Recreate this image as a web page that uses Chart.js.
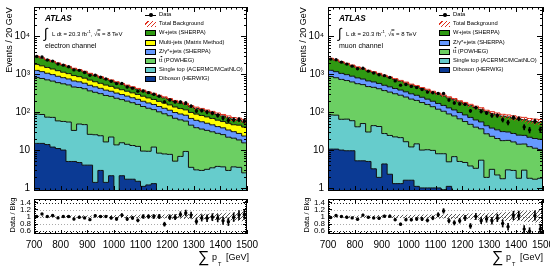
<!DOCTYPE html>
<html lang="en">
<head>
<meta charset="UTF-8">
<title>Sum pT - electron and muon channels</title>
<style>
  body { margin: 0; background: #fff; }
  #wrap { position: relative; width: 550px; height: 280px; overflow: hidden; font-family: "Liberation Sans", Arial, sans-serif; }
  canvas { position: absolute; }
  .t { position: absolute; white-space: nowrap; line-height: 1; color: #000; }
  .t sup { font-size: 70%; }
  .sw { position: absolute; box-sizing: border-box; }
</style>
<script src="https://cdn.jsdelivr.net/npm/chart.js@4.4.0/dist/chart.umd.min.js"></script>
</head>
<body>
<div id="wrap">
  <canvas id="eMain" width="275" height="195" style="left:0;top:0"></canvas>
  <canvas id="eRatio" width="275" height="85" style="left:0;top:195px"></canvas>
  <canvas id="mMain" width="275" height="195" style="left:275px;top:0"></canvas>
  <canvas id="mRatio" width="275" height="85" style="left:275px;top:195px"></canvas>
</div>
<script>
// bins: 40 x 20 GeV from 700 to 1500
const binEdges = Array.from({length: 41}, (_, i) => 700 + 20 * i);
const binCenters = binEdges.slice(0, 40).map(e => e + 10);
const xTickValues = [700, 800, 900, 1000, 1100, 1200, 1300, 1400, 1500];
const yMainTicks = [1, 10, 100, 1000, 10000];
const yMainLabels = ['1', '10', '10²', '10³', '10⁴'];
const yRatioTicks = [0.6, 0.8, 1, 1.2, 1.4];

// ---- electron channel (events per bin) ----
const eWjets = [1130,1000,880,790,700,610,540,480,430,375,330,290,260,230,205,180,160,140,125,110,98,90,80,72,66,60,54,50,45,41,37,34,31,28,25,23,21,18,16,15];
const eMultijet = [560,500,450,400,360,320,290,260,235,210,190,170,152,138,124,112,100,92,83,76,70,63,57,52,47,43,39,35,32,30,28,26,24,22,20,18,17,16,18,17];
const eZjets = [440,400,355,320,285,255,230,205,185,165,148,132,118,106,95,86,77,70,63,58,53,48,43,39,36,32,29,27,25,23,22,20,18,16,14,13,12,10,9,8];
const eTtbar = [740,690,640,590,545,505,470,430,400,370,340,310,285,260,240,220,200,182,165,148,132,118,105,94,83,73,64,56,49,42,36,33,30,27,24,22,19,17,15,13];
const eSingleTop = [74,72,60,61,48,47,50,28,44,43,22,24,21,15,20,13,13.5,12.5,11.5,11,8.3,8.1,10.7,7.8,7.5,7.3,4.8,6.5,8.9,3.2,2.8,2.7,2.9,3.2,3.5,3.4,2.8,3.5,3.4,2.4];
const eDiboson = [15,15,14,12,11,10,5,5,4.7,4,4,1.4,2.9,1.4,2.1,0.7,2.1,1.7,1.7,1.5,1.1,1.2,1.3,0.5,0.4,0.4,0.3,0.3,0.3,0.3,0.2,0.2,0.2,0.2,0.2,0.2,0.1,0.1,0.1,0.1];
const eRatioVals = [1.0,1.07,1.0,1.03,0.96,1.0,1.0,0.93,0.98,0.96,0.91,1.02,1.0,1.0,0.96,0.93,1.04,0.93,0.96,0.89,1.0,1.0,1.0,1.0,0.78,0.98,0.98,1.06,1.1,1.04,0.86,0.96,0.95,0.98,0.95,0.88,0.85,0.98,1.04,1.06];
const eBkgUnc = [0.02,0.02,0.025,0.02,0.025,0.03,0.025,0.03,0.03,0.035,0.03,0.035,0.04,0.035,0.04,0.045,0.04,0.045,0.05,0.05,0.055,0.05,0.06,0.055,0.06,0.065,0.07,0.065,0.07,0.075,0.08,0.085,0.08,0.09,0.1,0.095,0.11,0.12,0.13,0.14];

// ---- muon channel ----
const mWjets = [1330,1180,1040,920,820,720,640,570,505,450,400,355,315,280,250,222,200,178,160,145,130,118,108,99,90,83,76,70,64,59,55,51,48,45,43,41,39,37,36,35];
const mZjets = [400,360,325,295,265,240,215,195,175,158,142,128,115,103,93,84,75,68,61,55,50,45,40,35,31,28,25,22,19,17,15,14,13,12,11,10.5,10,9.5,9,9];
const mTtbar = [790,730,670,620,570,525,485,445,410,375,345,315,285,260,235,210,190,170,150,130,112,98,85,73,62,52,44,37,31,25,20,18,16,15,13.5,12.5,11.5,10.5,9.5,8.5];
const mSingleTop = [74,73,55,56,50,36,45,25,41,40,23,22,21,20,15,10.5,13.5,9,9.2,8.8,7,7.1,3.8,6.2,4.5,4.4,3.5,3,5.2,1.7,2.9,2,1.55,2.9,2.8,1.7,2.85,1.7,1.6,1.7];
const mDiboson = [10.6,10.6,10,9.6,9.6,5.2,5.2,5,3.2,1.9,4.3,2.3,1.3,1.3,1.6,1.6,1.1,1,1,1,1,0.9,1.1,0.5,0.5,0.3,0.3,0.3,0.2,0.2,0.2,0.2,0.2,0.1,0.1,0.1,0.1,0.1,0.1,0.1];
const mRatioVals = [0.97,1.03,1.0,0.98,0.96,0.92,1.04,0.98,0.96,0.95,1.01,1.01,0.91,0.78,0.91,0.91,0.93,0.93,0.89,0.96,1.05,1.16,0.88,0.82,0.88,0.96,0.73,1.0,0.88,0.93,0.88,0.96,0.8,0.71,1.03,1.03,0.64,0.58,1.03,0.64];
const mBkgUnc = [0.02,0.025,0.025,0.03,0.025,0.03,0.035,0.03,0.035,0.04,0.035,0.04,0.045,0.04,0.05,0.045,0.05,0.055,0.06,0.055,0.065,0.06,0.07,0.075,0.07,0.08,0.085,0.09,0.1,0.095,0.11,0.12,0.115,0.13,0.14,0.13,0.15,0.16,0.17,0.18];

const colors = {
  wjets: '#2f9a12', multijet: '#ffff00', zjets: '#6699ff',
  ttbar: '#6ccf63', singletop: '#66cccc', diboson: '#0b3a94'
};

Chart.defaults.font.family = "'Liberation Sans', Arial, sans-serif";

function hatch(canvasId, color) {
  const c = document.createElement('canvas');
  c.width = 4; c.height = 4;
  const g = c.getContext('2d');
  g.strokeStyle = color; g.lineWidth = 1;
  g.beginPath(); g.moveTo(-1, 5); g.lineTo(5, -1); g.stroke();
  return document.getElementById(canvasId).getContext('2d').createPattern(c, 'repeat');
}

// histogram outline: flat over each bin, steps at the bin edges
function stepPoints(vals) {
  const pts = [{x: binEdges[0], y: vals[0]}];
  vals.forEach((v, i) => pts.push({x: binCenters[i], y: v}));
  pts.push({x: binEdges[40], y: vals[vals.length - 1]});
  return pts;
}

// inward ticks on all four sides + frame, ratio reference lines
const atlasFrame = {
  id: 'atlasFrame',
  beforeDatasetsDraw(chart, args, o) {
    if (!o.refLines) return;
    const {ctx, chartArea: a, scales: {y}} = chart;
    ctx.save();
    ctx.lineWidth = 1;
    ctx.setLineDash([1, 2]);
    o.refLines.forEach(r => {
      const py = Math.round(y.getPixelForValue(r.v)) + 0.5;
      ctx.strokeStyle = r.color;
      ctx.beginPath(); ctx.moveTo(a.left, py); ctx.lineTo(a.right, py); ctx.stroke();
    });
    ctx.restore();
  },
  afterDatasetsDraw(chart, args, o) {
    const {ctx, chartArea: a, scales: {x, y}} = chart;
    ctx.save();
    ctx.strokeStyle = '#000'; ctx.lineWidth = 1; ctx.setLineDash([]);
    ctx.beginPath();
    o.xTicks.forEach(([v, len]) => {
      const px = Math.round(x.getPixelForValue(v)) + 0.5;
      ctx.moveTo(px, a.bottom); ctx.lineTo(px, a.bottom - len);
      ctx.moveTo(px, a.top); ctx.lineTo(px, a.top + len);
    });
    o.yTicks.forEach(([v, len]) => {
      const py = Math.round(y.getPixelForValue(v)) + 0.5;
      ctx.moveTo(a.left, py); ctx.lineTo(a.left + len, py);
      ctx.moveTo(a.right, py); ctx.lineTo(a.right - len, py);
    });
    ctx.stroke();
    ctx.strokeRect(a.left + 0.5, a.top + 0.5, a.right - a.left - 1, a.bottom - a.top - 1);
    ctx.restore();
  }
};

function xTickMarks(major, minor) {
  const out = [];
  for (let v = 700; v <= 1500; v += 20) out.push([v, v % 100 === 0 ? major : minor]);
  return out;
}
const mainYTicks = [];
yMainTicks.forEach(d => {
  for (let m = 1; m <= 9; m++) if (m * d <= 6e4) mainYTicks.push([m * d, m === 1 ? 6 : 3]);
});
const ratioYTicks = [];
for (let k = 11; k <= 29; k++) ratioYTicks.push([k * 0.05, k % 4 === 0 ? 4 : 2]);

function makeMain(id, comps, ratio, unc, yWidth, padRight) {
  const cum = [];
  let run = new Array(40).fill(0);
  comps.forEach(c => { run = run.map((r, i) => r + c.vals[i]); cum.push(run); });
  const total = cum[cum.length - 1];
  const dataN = ratio.map((r, i) => r * total[i]);
  const datasets = [
    { data: binCenters.map((x, i) => ({x, y: dataN[i]})), showLine: false,
      pointRadius: 1.7, pointBackgroundColor: '#000', pointBorderWidth: 0 },
    { type: 'bar', data: binCenters.map((x, i) => ({x, y: [dataN[i] - Math.sqrt(dataN[i]), dataN[i] + Math.sqrt(dataN[i])]})),
      barThickness: 1, backgroundColor: '#000', borderWidth: 0 },
    { data: stepPoints(total.map((t, i) => t * (1 + unc[i]))), stepped: 'middle', fill: '+1',
      backgroundColor: hatch(id, '#e0301e'), borderColor: '#e0301e', borderWidth: 1, pointRadius: 0 },
    { data: stepPoints(total.map((t, i) => t * (1 - unc[i]))), stepped: 'middle', fill: false,
      borderColor: 'rgba(0,0,0,0)', pointRadius: 0 }
  ];
  comps.forEach((c, k) => datasets.push({
    data: stepPoints(cum[k]), stepped: 'middle', fill: 'start',
    backgroundColor: c.color, borderColor: '#111', borderWidth: 1, pointRadius: 0
  }));
  return new Chart(document.getElementById(id), {
    type: 'line',
    data: { datasets },
    plugins: [atlasFrame],
    options: {
      responsive: false, animation: false, events: [],
      layout: { padding: { top: 7, right: padRight, bottom: 3, left: 0 } },
      plugins: {
        legend: { display: false }, tooltip: { enabled: false },
        atlasFrame: { xTicks: xTickMarks(5, 2.5), yTicks: mainYTicks }
      },
      scales: {
        x: { type: 'linear', min: 700, max: 1500, offset: false, display: false },
        y: {
          type: 'logarithmic', min: 0.83, max: 6e4,
          afterBuildTicks: s => { s.ticks = yMainTicks.map(v => ({value: v})); },
          afterFit: s => { s.width = yWidth; s.paddingTop = 0; s.paddingBottom = 0; },
          ticks: { callback: v => yMainLabels[yMainTicks.indexOf(v)], font: { size: 10 }, color: '#000', padding: 4, autoSkip: false },
          grid: { display: false, drawTicks: false }, border: { display: false }
        }
      }
    }
  });
}

function makeRatio(id, comps, ratio, unc, yWidth, padRight) {
  const total = new Array(40).fill(0).map((_, i) => comps.reduce((s, c) => s + c.vals[i], 0));
  const err = ratio.map((r, i) => Math.sqrt(r * total[i]) / total[i]);
  const datasets = [
    { data: binCenters.map((x, i) => ({x, y: ratio[i]})), showLine: false,
      pointRadius: 1.7, pointBackgroundColor: '#000', pointBorderWidth: 0 },
    { type: 'bar', data: binCenters.map((x, i) => ({x, y: [ratio[i] - err[i], ratio[i] + err[i]]})),
      barThickness: 1, backgroundColor: '#000', borderWidth: 0 },
    { data: stepPoints(unc.map(u => 1 + u)), stepped: 'middle', fill: '+1',
      backgroundColor: hatch(id, '#555'), borderColor: 'rgba(0,0,0,0)', pointRadius: 0 },
    { data: stepPoints(unc.map(u => 1 - u)), stepped: 'middle', fill: false,
      borderColor: 'rgba(0,0,0,0)', pointRadius: 0 }
  ];
  return new Chart(document.getElementById(id), {
    type: 'line',
    data: { datasets },
    plugins: [atlasFrame],
    options: {
      responsive: false, animation: false, events: [],
      layout: { padding: { top: 3, right: padRight, bottom: 0, left: 0 } },
      plugins: {
        legend: { display: false }, tooltip: { enabled: false },
        atlasFrame: {
          xTicks: xTickMarks(4, 2), yTicks: ratioYTicks,
          refLines: [{v: 1.4, color: '#222'}, {v: 1.2, color: '#aaa'}, {v: 1, color: '#888'},
                     {v: 0.8, color: '#aaa'}, {v: 0.6, color: '#222'}]
        }
      },
      scales: {
        x: {
          type: 'linear', min: 700, max: 1500, offset: false,
          afterBuildTicks: s => { s.ticks = xTickValues.map(v => ({value: v})); },
          afterFit: s => { s.height = 46; s.paddingLeft = 0; s.paddingRight = 0; },
          ticks: { callback: v => String(v), font: { size: 10 }, color: '#000', padding: 5, maxRotation: 0, autoSkip: false },
          grid: { display: false, drawTicks: false, offset: false }, border: { display: false }
        },
        y: {
          type: 'linear', min: 0.5, max: 1.5,
          afterBuildTicks: s => { s.ticks = yRatioTicks.map(v => ({value: v})); },
          afterFit: s => { s.width = yWidth; s.paddingTop = 0; s.paddingBottom = 0; },
          ticks: { callback: v => String(v), font: { size: 8 }, color: '#000', padding: 3, autoSkip: false },
          grid: { display: false, drawTicks: false }, border: { display: false }
        }
      }
    }
  });
}

const eComps = [
  {label: 'Diboson (HERWIG)', vals: eDiboson, color: colors.diboson},
  {label: 'Single top (ACERMC/MCatNLO)', vals: eSingleTop, color: colors.singletop},
  {label: 't<span style="text-decoration:overline">t</span> (POWHEG)', vals: eTtbar, color: colors.ttbar},
  {label: 'Z/γ*+jets (SHERPA)', vals: eZjets, color: colors.zjets},
  {label: 'Multi-jets (Matrix Method)', vals: eMultijet, color: colors.multijet},
  {label: 'W+jets (SHERPA)', vals: eWjets, color: colors.wjets}
];
const mComps = [
  {label: 'Diboson (HERWIG)', vals: mDiboson, color: colors.diboson},
  {label: 'Single top (ACERMC/MCatNLO)', vals: mSingleTop, color: colors.singletop},
  {label: 't<span style="text-decoration:overline">t</span> (POWHEG)', vals: mTtbar, color: colors.ttbar},
  {label: 'Z/γ*+jets (SHERPA)', vals: mZjets, color: colors.zjets},
  {label: 'W+jets (SHERPA)', vals: mWjets, color: colors.wjets}
];

makeMain('eMain', eComps, eRatioVals, eBkgUnc, 34, 28);
makeRatio('eRatio', eComps, eRatioVals, eBkgUnc, 34, 28);
makeMain('mMain', mComps, mRatioVals, mBkgUnc, 53, 7);
makeRatio('mRatio', mComps, mRatioVals, mBkgUnc, 53, 7);

// text overlays: axis titles, ATLAS label, legend
function overlay(dx, channel, comps) {
  const wrap = document.getElementById('wrap');
  const add = (html, x, y, size, extra = '') => {
    const d = document.createElement('div');
    d.className = 't';
    d.style.cssText = `left:${x + dx}px;top:${y}px;font-size:${size}px;transform:translateY(-50%);${extra}`;
    d.innerHTML = html;
    wrap.appendChild(d);
  };
  const box = (x, y, w, h, css) => {
    const d = document.createElement('div');
    d.className = 'sw';
    d.style.cssText = `left:${x + dx}px;top:${y}px;width:${w}px;height:${h}px;${css}`;
    wrap.appendChild(d);
  };
  add('Events / 20 GeV', 8.5, 40, 9, 'transform:translate(-50%,-50%) rotate(-90deg);');
  add('Data / Bkg', 13, 215, 7.5, 'transform:translate(-50%,-50%) rotate(-90deg);');
  add('ATLAS', 45, 19, 8.2, 'font-weight:bold;font-style:italic;');
  add('∫', 44, 33, 14);
  add('L dt = 20.3 fb<sup>-1</sup>, √<span style="text-decoration:overline">s</span> = 8 TeV', 52, 33, 6);
  add(channel, 45, 45, 7);

  const entries = comps.slice().reverse();
  const rowY = k => 15 + 9.2 * k;
  // Data
  box(145, rowY(0) - 0.5, 11, 1, 'background:#000;');
  box(149, rowY(0) - 2, 3.5, 3.5, 'background:#000;border-radius:50%;');
  add('Data', 159, rowY(0), 5.8);
  // Total background
  box(145, rowY(1) - 3, 11, 6, 'background:repeating-linear-gradient(-45deg,#e0301e 0 1px,transparent 1px 3px);');
  add('Total Background', 159, rowY(1), 5.8);
  entries.forEach((c, k) => {
    const y = rowY(k + 2);
    box(145, y - 3, 11, 6, `background:${c.color};border:1px solid #000;`);
    add(c.label, 159, y, 5.8);
  });

  add('∑', 198, 257, 16);
  add('p', 212, 257, 9);
  add('T', 218, 265, 5.5);
  add('[GeV]', 226, 257, 9);
}
overlay(0, 'electron channel', eComps);
overlay(294, 'muon channel', mComps);
</script>
</body>
</html>
